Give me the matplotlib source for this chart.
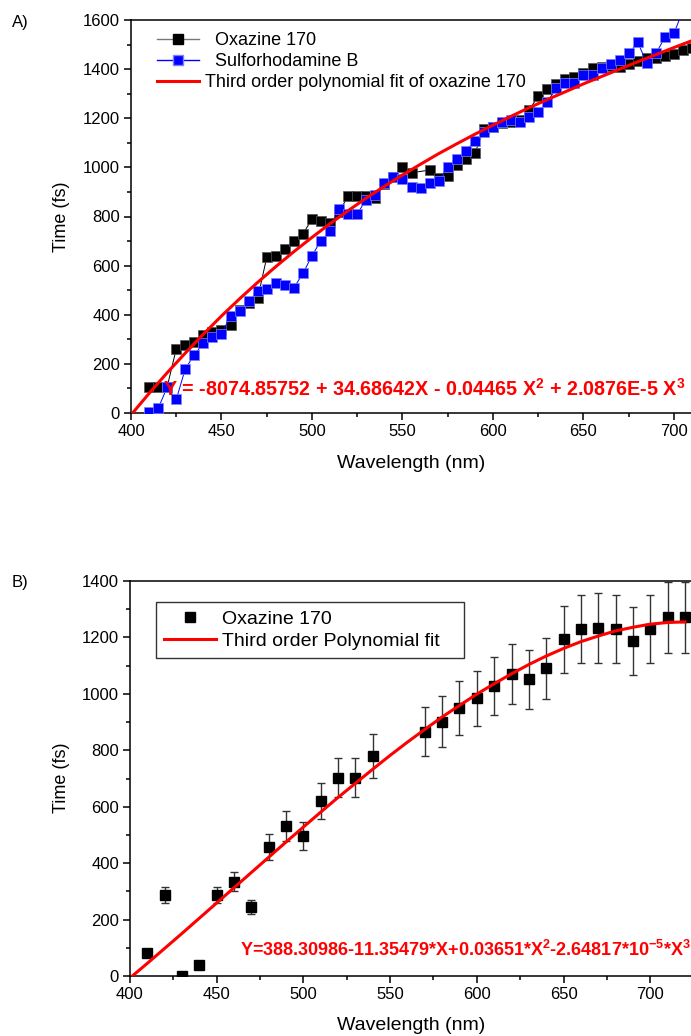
import matplotlib.pyplot as plt
from matplotlib.lines import Line2D
from matplotlib.ticker import MultipleLocator

plt.rcParams['font.family'] = ['Liberation Sans', 'DejaVu Sans']
plt.rcParams['mathtext.fontset'] = 'custom'
plt.rcParams['mathtext.rm'] = 'Liberation Sans'
plt.rcParams['mathtext.bf'] = 'Liberation Sans:bold'

# ---- panel A data ----
wl_oxa = [410, 415, 420, 425, 430, 435, 440, 445, 450, 455, 460, 465, 470, 475, 480,
          485, 490, 495, 500, 505, 510, 515, 520, 525, 530, 535, 540, 545, 550, 555,
          565, 570, 575, 580, 585, 590, 595, 600, 605, 610, 615, 620, 625, 630, 635,
          640, 645, 650, 655, 660, 665, 670, 675, 680, 685, 690, 695, 700, 705, 710]
t_oxa = [104, 105, 107, 261, 276, 289, 316, 330, 337, 358, 420, 446, 467, 634, 639,
         668, 701, 729, 790, 783, 772, 818, 885, 885, 885, 875, 932, 962, 1003, 978,
         989, 958, 965, 1010, 1034, 1057, 1155, 1166, 1179, 1183, 1193, 1234, 1290, 1319, 1339,
         1360, 1368, 1383, 1406, 1410, 1414, 1410, 1419, 1434, 1444, 1447, 1455, 1460, 1479, 1485]

wl_sulf = list(range(410, 710, 5))
t_sulf = [3, 19, 105, 55, 180, 237, 284, 309, 321, 395, 417, 454, 495, 506, 528,
          521, 510, 568, 641, 702, 742, 831, 810, 811, 869, 888, 935, 959, 951, 921,
          915, 938, 946, 1003, 1033, 1067, 1109, 1145, 1163, 1186, 1193, 1186, 1204, 1224, 1267,
          1322, 1342, 1345, 1376, 1376, 1406, 1419, 1437, 1464, 1509, 1424, 1464, 1529, 1546, 1640]

wl_fit_a = list(range(400, 720, 10))
t_fit_a = [-8, 80, 164, 244, 321, 395, 465, 532, 596, 657, 715, 771, 824, 875, 923, 969,
           1013, 1056, 1096, 1135, 1172, 1208, 1243, 1276, 1308, 1340, 1370, 1400, 1430, 1459,
           1488, 1516]

# ---- panel B data ----
wl_b = [410, 420, 430, 440, 450, 460, 470, 480, 490, 500, 510, 520, 530, 540,
        570, 580, 590, 600, 610, 620, 630, 640, 650, 660, 670, 680, 690, 700, 710, 720]
t_b = [80, 287, 0, 39, 287, 334, 243, 456, 532, 496, 621, 703, 703, 780,
       866, 901, 949, 984, 1028, 1070, 1051, 1090, 1193, 1230, 1233, 1230, 1187, 1230, 1271, 1271]
err_b = [0, 28, 0, 0, 28, 34, 25, 46, 54, 50, 63, 70, 70, 78,
         87, 90, 95, 98, 103, 106, 105, 108, 120, 122, 123, 122, 120, 122, 127, 127]

wl_fit_b = list(range(400, 730, 10))
t_fit_b = [-7, 45, 98, 151, 205, 259, 313, 367, 421, 475, 528, 581, 633, 683, 733, 782,
           829, 874, 918, 959, 999, 1036, 1071, 1104, 1134, 1161, 1185, 1205, 1223, 1236,
           1247, 1253, 1255]

W, H = 691, 1036
fig = plt.figure(figsize=(W / 100, H / 100), dpi=100)


def px(x, y):
    return x / W, 1 - y / H


def style_axes(ax, ymax, xmax):
    ax.set_xlim(400, xmax)
    ax.set_ylim(0, ymax)
    ax.xaxis.set_major_locator(MultipleLocator(50))
    ax.xaxis.set_minor_locator(MultipleLocator(25))
    ax.yaxis.set_major_locator(MultipleLocator(200))
    ax.yaxis.set_minor_locator(MultipleLocator(100))
    ax.tick_params(which='both', direction='out', top=False, right=False, width=1.1)
    ax.tick_params(which='major', length=5, labelsize=12, pad=3)
    ax.tick_params(which='minor', length=2.8)
    ax.spines['right'].set_visible(False)
    for s in ('left', 'bottom', 'top'):
        ax.spines[s].set_linewidth(1.1)


# ---------------- panel A ----------------
ax1 = fig.add_axes([131 / W, 1 - 413 / H, 560 / W, 393 / H])
ax1.plot(wl_oxa, t_oxa, '-s', color='black', lw=0.7, ms=6.5, mfc='black', mec='#555555', mew=0.5, zorder=2)
ax1.plot(wl_sulf, t_sulf, '-s', color='#0000ff', lw=0.7, ms=6.5, mfc='#0000ff', mec='#8080ff', mew=0.5, zorder=3)
ax1.plot(wl_fit_a, t_fit_a, '-', color='#ff0000', lw=2.2, zorder=4)
style_axes(ax1, 1600, 709.4)

h_a = [Line2D([], [], color='#777777', lw=1, marker='s', ms=6.5, mfc='black', mec='black'),
       Line2D([], [], color='#0000ff', lw=1, marker='s', ms=6.5, mfc='#0000ff', mec='#8080ff'),
       Line2D([], [], color='#ff0000', lw=2.2)]
ax1.legend(h_a, ['  Oxazine 170', '  Sulforhodamine B', 'Third order polynomial fit of oxazine 170'],
           loc='upper left', bbox_to_anchor=px(157, 32), bbox_transform=fig.transFigure,
           frameon=False, fontsize=13, handlelength=2.3, handletextpad=0.35,
           labelspacing=0.22, borderpad=0, borderaxespad=0)

fig.text(*px(163, 396), 'Y = -8074.85752 + 34.68642X - 0.04465 X$^{\\mathbf{2}}$ + 2.0876E-5 X$^{\\mathbf{3}}$',
         color='#ff0000', fontsize=14.2, fontweight='bold', ha='left', va='baseline')
fig.text(*px(411, 464), 'Wavelength (nm)', fontsize=14, ha='center', va='center')
fig.text(*px(62, 217), 'Time (fs)', fontsize=13, rotation=90, ha='center', va='center')
fig.text(*px(12, 22), 'A)', fontsize=12, ha='left', va='center')

# ---------------- panel B ----------------
ax2 = fig.add_axes([130 / W, 1 - 976 / H, 561 / W, 395 / H])
ax2.errorbar(wl_b, t_b, yerr=err_b, fmt='s', color='black', ms=6.5, mec='black',
             ecolor='#333333', elinewidth=1, capsize=3, capthick=1, zorder=3)
ax2.plot(wl_fit_b, t_fit_b, '-', color='#ff0000', lw=2.2, zorder=4)
style_axes(ax2, 1400, 723.5)

h_b = [Line2D([], [], ls='none', marker='s', ms=6.5, mfc='black', mec='black'),
       Line2D([], [], color='#ff0000', lw=2.2)]
leg = ax2.legend(h_b, ['Oxazine 170', 'Third order Polynomial fit   '],
                 loc='upper left', bbox_to_anchor=px(155.5, 602), bbox_transform=fig.transFigure,
                 frameon=True, fancybox=False, fontsize=14, handlelength=2.7, handletextpad=0.3,
                 labelspacing=0.25, borderpad=0.42, borderaxespad=0)
leg.get_frame().set_edgecolor('black')
leg.get_frame().set_linewidth(1)

fig.text(*px(240, 956), 'Y=388.30986-11.35479*X+0.03651*X$^{\\mathbf{2}}$-2.64817*10$^{\\mathbf{-5}}$*X$^{\\mathbf{3}}$',
         color='#ff0000', fontsize=13, fontweight='bold', ha='left', va='baseline')
fig.text(*px(411, 1025), 'Wavelength (nm)', fontsize=14, ha='center', va='center')
fig.text(*px(62, 778), 'Time (fs)', fontsize=13, rotation=90, ha='center', va='center')
fig.text(*px(12, 583), 'B)', fontsize=12, ha='left', va='center')

fig.savefig('out.png', dpi=100)
